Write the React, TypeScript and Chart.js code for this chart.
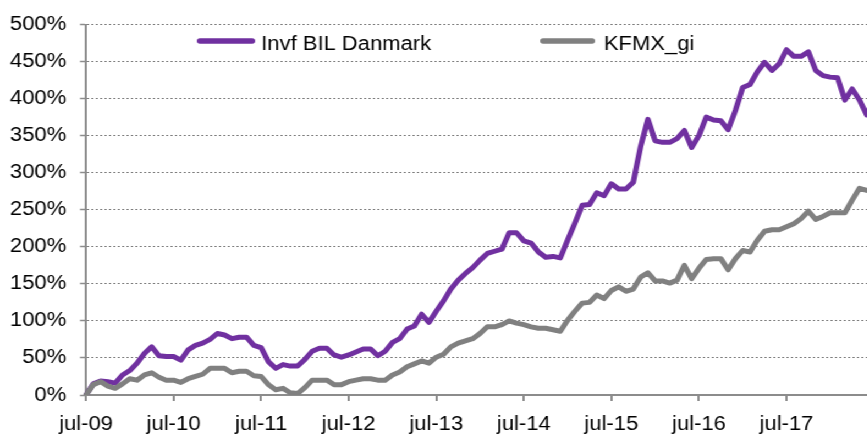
import React, { useEffect, useRef } from 'react';
import { Chart, registerables } from 'chart.js';

Chart.register(...registerables);

// ---- data ----
const categories: string[] = [
  'jul-09', 'aug-09', 'sep-09', 'okt-09', 'nov-09', 'dec-09',
  'jan-10', 'feb-10', 'mar-10', 'apr-10', 'maj-10', 'jun-10', 'jul-10', 'aug-10', 'sep-10', 'okt-10', 'nov-10', 'dec-10',
  'jan-11', 'feb-11', 'mar-11', 'apr-11', 'maj-11', 'jun-11', 'jul-11', 'aug-11', 'sep-11', 'okt-11', 'nov-11', 'dec-11',
  'jan-12', 'feb-12', 'mar-12', 'apr-12', 'maj-12', 'jun-12', 'jul-12', 'aug-12', 'sep-12', 'okt-12', 'nov-12', 'dec-12',
  'jan-13', 'feb-13', 'mar-13', 'apr-13', 'maj-13', 'jun-13', 'jul-13', 'aug-13', 'sep-13', 'okt-13', 'nov-13', 'dec-13',
  'jan-14', 'feb-14', 'mar-14', 'apr-14', 'maj-14', 'jun-14', 'jul-14', 'aug-14', 'sep-14', 'okt-14', 'nov-14', 'dec-14',
  'jan-15', 'feb-15', 'mar-15', 'apr-15', 'maj-15', 'jun-15', 'jul-15', 'aug-15', 'sep-15', 'okt-15', 'nov-15', 'dec-15',
  'jan-16', 'feb-16', 'mar-16', 'apr-16', 'maj-16', 'jun-16', 'jul-16', 'aug-16', 'sep-16', 'okt-16', 'nov-16', 'dec-16',
  'jan-17', 'feb-17', 'mar-17', 'apr-17', 'maj-17', 'jun-17', 'jul-17', 'aug-17', 'sep-17', 'okt-17', 'nov-17', 'dec-17',
  'jan-18', 'feb-18', 'mar-18', 'apr-18', 'maj-18', 'jun-18',
];

const seriesNames: string[] = ['Invf BIL Danmark', 'KFMX_gi'];

const invfBilDanmark: number[] = [
  0, 15, 19, 18, 16, 27,
  33, 43, 56, 65, 53, 52, 52, 47, 61, 67, 70, 75,
  83, 81, 76, 78, 78, 67, 64, 45, 36, 41, 39, 39,
  48, 59, 63, 63, 54, 51, 54, 58, 62, 62, 53, 59,
  71, 76, 89, 93, 109, 98, 113, 127, 143, 155, 164, 172,
  182, 191, 194, 197, 219, 219, 208, 205, 193, 186, 187, 185,
  209, 232, 256, 257, 273, 269, 285, 278, 278, 287, 335, 372,
  343, 341, 341, 346, 357, 334, 350, 375, 371, 370, 358, 384,
  415, 419, 436, 449, 438, 447, 466, 457, 457, 463, 438, 431,
  429, 428, 398, 413, 398, 378,
];

const kfmxGi: number[] = [
  0, 14, 18, 12, 9, 15,
  22, 20, 27, 30, 24, 20, 20, 17, 22, 25, 28, 36,
  36, 36, 30, 32, 32, 26, 25, 14, 7, 9, 3, 2,
  10, 20, 20, 20, 14, 14, 18, 20, 22, 22, 20, 20,
  27, 31, 38, 42, 46, 43, 51, 55, 65, 70, 73, 76,
  83, 92, 92, 95, 100, 97, 95, 92, 90, 90, 88, 86,
  101, 113, 124, 125, 135, 130, 141, 146, 140, 143, 159, 165,
  154, 154, 151, 155, 175, 157, 171, 183, 184, 184, 169, 184,
  195, 193, 209, 221, 223, 223, 227, 231, 238, 248, 237, 241,
  246, 246, 246, 263, 279, 276,
];

const xTickLabels: string[] = ['jul-09', 'jul-10', 'jul-11', 'jul-12', 'jul-13', 'jul-14', 'jul-15', 'jul-16', 'jul-17'];
const yMin = 0;
const yMax = 500;
const yStep = 50;

// ---- styling / layout ----
const STRETCH_X = 1.1;
const W = 788;
const H = 436;
const FONT = '"Liberation Sans", Arial, Helvetica, sans-serif';
const PURPLE = '#7030a0';
const GRAY = '#808080';
const AXIS = '#8c8c8c';

export default function App() {
  const ref = useRef<HTMLCanvasElement | null>(null);

  useEffect(() => {
    if (!ref.current) return;

    const legendItems = [
      { x0: 179, x1: 232, tx: 237.5 },
      { x0: 491, x1: 541, tx: 549 },
    ];

    const legendPlugin = {
      id: 'insideLegend',
      afterDraw(chart: any) {
        const ctx = chart.ctx as CanvasRenderingContext2D;
        chart.data.datasets.forEach((ds: any, i: number) => {
          const it = legendItems[i];
          if (!it) return;
          const lw = 5.5;
          ctx.save();
          ctx.strokeStyle = ds.borderColor;
          ctx.lineWidth = lw;
          ctx.lineCap = 'round';
          ctx.beginPath();
          ctx.moveTo(it.x0 + lw / 2, 41);
          ctx.lineTo(it.x1 - lw / 2, 41);
          ctx.stroke();
          ctx.fillStyle = '#000';
          ctx.font = `20px ${FONT}`;
          ctx.textBaseline = 'alphabetic';
          ctx.textAlign = 'left';
          ctx.fillText(ds.label, it.tx, 49.5);
          ctx.restore();
        });
      },
    };

    const isShown = (i: number) => xTickLabels.includes(categories[i]);

    const chart = new Chart(ref.current, {
      type: 'line',
      data: {
        labels: categories,
        datasets: [
          {
            label: seriesNames[0],
            data: invfBilDanmark,
            borderColor: PURPLE,
            backgroundColor: PURPLE,
            borderWidth: 5,
            pointRadius: 0,
            tension: 0,
            borderJoinStyle: 'round',
            borderCapStyle: 'round',
            order: 2,
          },
          {
            label: seriesNames[1],
            data: kfmxGi,
            borderColor: GRAY,
            backgroundColor: GRAY,
            borderWidth: 5,
            pointRadius: 0,
            tension: 0,
            borderJoinStyle: 'round',
            borderCapStyle: 'round',
            order: 1,
          },
        ],
      },
      options: {
        responsive: false,
        maintainAspectRatio: false,
        animation: false,
        devicePixelRatio: 1,
        layout: { padding: { top: 24, right: 0, bottom: 0, left: 0 } },
        plugins: {
          legend: { display: false },
          tooltip: { enabled: false },
        },
        scales: {
          x: {
            type: 'category',
            offset: false,
            ticks: {
              autoSkip: false,
              maxRotation: 0,
              minRotation: 0,
              padding: 11,
              color: '#000',
              font: { family: FONT, size: 20 },
              callback: (_v: any, i: number) => (isShown(i) ? categories[i] : ''),
            },
            grid: {
              display: true,
              drawOnChartArea: false,
              drawTicks: true,
              tickLength: 6,
              tickColor: AXIS,
              tickWidth: (c: any) => (isShown(c.index) ? 2 : 0),
              lineWidth: 0,
            },
            border: { display: true, color: AXIS, width: 2 },
            afterFit: (s: any) => {
              s.height = 41;
              s.paddingRight = 0;
            },
          },
          y: {
            min: yMin,
            max: yMax,
            ticks: {
              stepSize: yStep,
              padding: 12.5,
              color: '#000',
              font: { family: FONT, size: 20 },
              callback: (v: any) => `${v}%`,
            },
            grid: {
              display: true,
              drawOnChartArea: true,
              drawTicks: true,
              color: GRAY,
              lineWidth: 1,
              tickLength: 5.5,
              tickColor: AXIS,
              tickWidth: 1.5,
              tickBorderDash: [],
            },
            border: { display: true, color: AXIS, width: 2, dash: [2, 2] },
            afterFit: (s: any) => {
              s.width = 78.2;
            },
          },
        },
      },
      plugins: [legendPlugin],
    } as any);

    return () => chart.destroy();
  }, []);

  return (
    <div
      style={{
        position: 'absolute',
        left: 0,
        top: 0,
        width: W,
        height: H,
        transform: `scaleX(${STRETCH_X})`,
        transformOrigin: '0 0',
        background: '#fff',
      }}
    >
      <canvas ref={ref} width={W} height={H} style={{ display: 'block', width: W, height: H }} />
    </div>
  );
}
